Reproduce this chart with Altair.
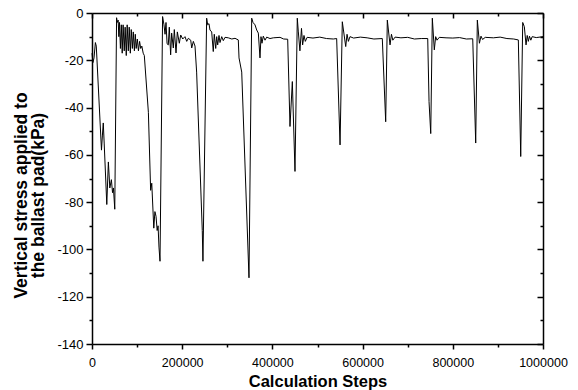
import altair as alt
import pandas as pd

# Calculation steps (x) and vertical stress (kPa, y)
steps = [
    0, 2000, 4500, 7500, 9500, 21000, 23000, 25000, 27000, 32800, 36300, 39500, 43000, 45500, 47500, 50500, 54500,
    56000, 58000, 59500, 61000, 63000, 65000, 67000, 69000, 71500, 73500, 76000, 78000, 80500, 82500, 85000, 87000,
    89500, 91500, 94000, 96000, 98000, 100500, 103000, 105500, 108000, 110500, 113500, 116000,
    125000, 130000, 132500, 137000, 139500, 142000, 144500, 146500, 148500, 150800, 156500,
    159600, 162000, 164100, 166500, 169200, 171400, 174400, 176600, 180300, 182500, 186300, 189200, 193600, 196700,
    201100, 206200, 210000, 213600, 218900, 221100, 224700, 228400, 232000, 244500, 246000, 254200,
    256500, 259400, 261600, 265400, 268900, 271100, 274300, 276500, 278700, 281600, 283800, 287600, 291100, 294900,
    302200, 310000, 317100, 324400, 326000, 332000, 348100, 354100,
    357000, 361400, 365200, 368800, 372500, 374700, 376900, 379800, 383600, 387400, 394700, 402000, 416900, 425000, 433900,
    439000, 444200, 450100, 455200, 457500, 461000, 464500, 467000, 470000, 473000, 477000, 490000, 505000, 520000, 535000, 542500,
    550000, 555000, 562600, 565500, 568500, 572000, 580000, 595000, 610000, 625000, 643700,
    651200, 654800, 660800, 664000, 667000, 672000, 685000, 700000, 715000, 730000, 744400,
    747300, 751100, 754600, 759000, 762000, 765000, 770000, 785000, 800000, 815000, 830000, 844200,
    850800, 854400, 859000, 862500, 866000, 872000, 890000, 905000, 920000, 935000, 945300,
    950600, 955000, 958600, 962400, 965000, 967500, 970000, 973000, 976000, 985000, 1000000,
]
stress = [
    -17, -21, -19, -12.5, -14, -58, -52, -46.5, -55, -81, -63, -74, -70.5, -76, -74, -83, -2,
    -4, -3, -10, -4, -15, -5, -17, -5, -16, -6, -18, -5, -16, -6, -17, -7,
    -15, -8, -16, -9, -15, -11, -16, -12, -15, -14, -17, -18,
    -42, -75, -72, -91, -84, -86, -92, -90, -99, -105, -1.5,
    -5, -9, -4, -13, -13.5, -6, -17.7, -8.5, -14.8, -7, -16.9, -8, -12.8, -9.3,
    -11, -10, -12, -10.7, -11.5, -14.8, -12, -14, -25, -92, -105, -2.2,
    -5, -4.5, -7.2, -8, -16.3, -9, -15, -10, -13.5, -9.5, -12.5, -10, -11.7, -10.3,
    -10.5, -11, -10.7, -11.4, -19, -25, -112, -2.2,
    -4, -5, -7.2, -8.5, -19, -10, -12.8, -9.8, -11.5, -10.2, -10.8, -10.5, -10.3, -11, -11.1,
    -48, -29, -67, -2.2, -8, -16, -6.5, -13.5, -9.5, -12, -10.3, -10.6, -10.2, -10.8, -11, -10.8,
    -55.8, -3.7, -14.2, -9, -12, -10, -10.6, -10.2, -10.5, -11, -10.8,
    -46, -3, -13.5, -9, -11.5, -10.2, -10.5, -10.3, -11, -10.8, -10.8,
    -37.5, -51, -2.2, -15.6, -10, -11.5, -10.3, -10.5, -10.6, -10.4, -11, -10.9,
    -55, -3, -12.8, -9.8, -11.2, -10.3, -10.5, -10.2, -10.8, -11, -11.4,
    -60.7, -4, -5.8, -13.5, -9.5, -12, -9.8, -11.5, -10, -10.4, -10,
]

x_ticks = [0, 100000, 200000, 300000, 400000, 500000, 600000, 700000, 800000, 900000, 1000000]
y_ticks = [0, -10, -20, -30, -40, -50, -60, -70, -80, -90, -100, -110, -120, -130, -140]

df = pd.DataFrame({"step": steps, "stress": stress})

W, H = 451, 331
FONT = "Liberation Sans"

xscale = alt.Scale(domain=[0, 1000000], nice=False, zero=False)
yscale = alt.Scale(domain=[-140, 0], nice=False, zero=False)

x_major = {"condition": {"test": "datum.value % 200000 === 0", "value": 5}, "value": 3}
y_major = {"condition": {"test": "datum.value % 20 === 0", "value": 6}, "value": 3}

common = dict(grid=False, domainColor="black", domainWidth=1.5, tickColor="black", tickWidth=1.5)

x_bottom = alt.Axis(
    orient="bottom", values=x_ticks, tickSize=x_major,
    labelExpr="datum.value % 200000 === 0 ? '' + datum.value : ''",
    labelFont=FONT, labelFontSize=12.5, labelColor="black", labelFlush=False, labelOverlap=False,
    labelPadding=7,
    title="Calculation Steps", titleFont=FONT, titleFontSize=16.5, titleFontWeight="bold", titleColor="black",
    titleBaseline="alphabetic", titleY=42, **common,
)
y_left = alt.Axis(
    orient="left", values=y_ticks, tickSize=y_major,
    labelExpr="datum.value % 20 === 0 ? '' + datum.value : ''",
    labelFont=FONT, labelFontSize=13, labelColor="black", labelFlush=False, labelOverlap=False,
    labelPadding=3,
    title=["Vertical stress applied to", "the ballast pad(kPa)"], titleFont=FONT, titleFontSize=17.5,
    titleFontWeight="bold", titleColor="black", titleAngle=270, titleAlign="center",
    titleBaseline="middle", titleLineHeight=17, titleX=-71, titleY=182, **common,
)
x_top = alt.Axis(orient="bottom", offset=-H, values=x_ticks, tickSize=x_major, labels=False, title=None, **common)
y_right = alt.Axis(orient="left", offset=-W, values=y_ticks, tickSize=y_major, labels=False, title=None, **common)

line = alt.Chart(df).mark_line(color="black", strokeWidth=1).encode(
    x=alt.X("step:Q", scale=xscale, axis=x_bottom),
    y=alt.Y("stress:Q", scale=yscale, axis=y_left),
)
frame = alt.Chart(df).mark_line(strokeOpacity=0).encode(
    x=alt.X("step:Q", scale=xscale, axis=x_top),
    y=alt.Y("stress:Q", scale=yscale, axis=y_right),
)

chart = (
    alt.layer(line, frame)
    .resolve_axis(x="independent", y="independent")
    .properties(
        width=W, height=H,
        autosize=alt.AutoSizeParams(type="none"),
        padding={"left": 92, "top": 13, "right": 35, "bottom": 46},
        background="white",
    )
    .configure_view(stroke=None)
)

chart.save("out.html", embed_options={"renderer": "svg", "actions": False})
